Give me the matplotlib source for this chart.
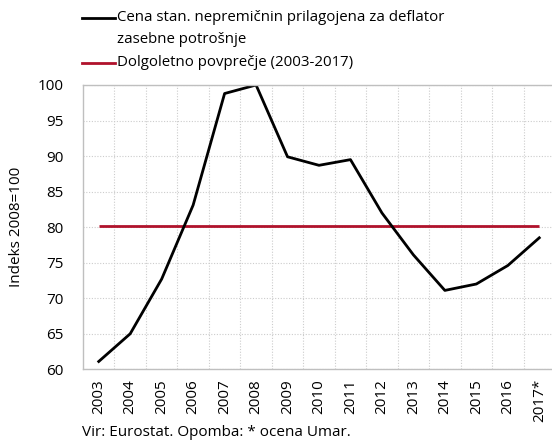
import matplotlib
matplotlib.use("Agg")
import matplotlib.pyplot as plt
from matplotlib.lines import Line2D

years = ["2003", "2004", "2005", "2006", "2007", "2008", "2009", "2010",
         "2011", "2012", "2013", "2014", "2015", "2016", "2017*"]
price = [61.1, 65.0, 72.7, 83.1, 98.8, 100.0, 89.9, 88.7, 89.5, 82.0,
         76.1, 71.1, 72.0, 74.6, 78.5]
avg_value = 80.2
yticks = [60, 65, 70, 75, 80, 85, 90, 95, 100]
series_labels = ["Cena stan. nepremičnin prilagojena za deflator\nzasebne potrošnje",
                 "Dolgoletno povprečje (2003-2017)"]
series_colors = ["black", "#b0122b"]

plt.rcParams['font.family'] = ['Open Sans', 'DejaVu Sans']
FS = 11

fig = plt.figure(figsize=(5.52, 4.43), dpi=100)
W, H = 552, 443
ax = fig.add_axes([83 / W, 1 - 369.3 / H, 472 / W, (369.3 - 85) / H])

x = list(range(len(years)))
ax.plot(x, [avg_value] * len(x), color=series_colors[1], lw=2.0, solid_capstyle="butt")
ax.plot(x, price, color=series_colors[0], lw=2.0)

ax.set_xlim(-0.5, len(years) - 0.5)
ax.set_ylim(60, 100)
ax.set_yticks(yticks)
ax.set_xticks(x)
ax.set_xticklabels(years, rotation=90)
ax.tick_params(axis='both', length=0, labelsize=FS)
ax.tick_params(axis='y', pad=14)
ax.tick_params(axis='x', pad=7)

ax.set_xticks([i + 0.5 for i in range(len(years) - 1)], minor=True)
ax.tick_params(axis='x', which='minor', length=0)
ax.grid(True, which='minor', axis='x', color='#cccccc', ls=(0, (1, 1.5)), lw=0.8)
ax.grid(True, which='major', axis='y', color='#cccccc', ls=(0, (1, 1.5)), lw=0.8)
ax.set_axisbelow(True)

for s in ['top', 'bottom', 'left']:
    ax.spines[s].set_color('#bfbfbf')
    ax.spines[s].set_linewidth(1.0)
ax.spines['right'].set_visible(False)

ax.set_ylabel("Indeks 2008=100", fontsize=FS, labelpad=10)

# manual legend (handle aligned to first text line)
legend_y = [18, 63]
for lab, col, yy in zip(series_labels, series_colors, legend_y):
    fig.add_artist(Line2D([82 / W, 115 / W], [1 - yy / H, 1 - yy / H],
                          color=col, lw=2.0, transform=fig.transFigure))
    fig.text(117 / W, 1 - (yy - 8) / H, lab, fontsize=10.8, va='top', ha='left',
             linespacing=1.65)

fig.text(82 / W, 1 - 433 / H, "Vir: Eurostat. Opomba: * ocena Umar.",
         fontsize=FS, va='center', ha='left')

fig.savefig("out.png", dpi=100)
